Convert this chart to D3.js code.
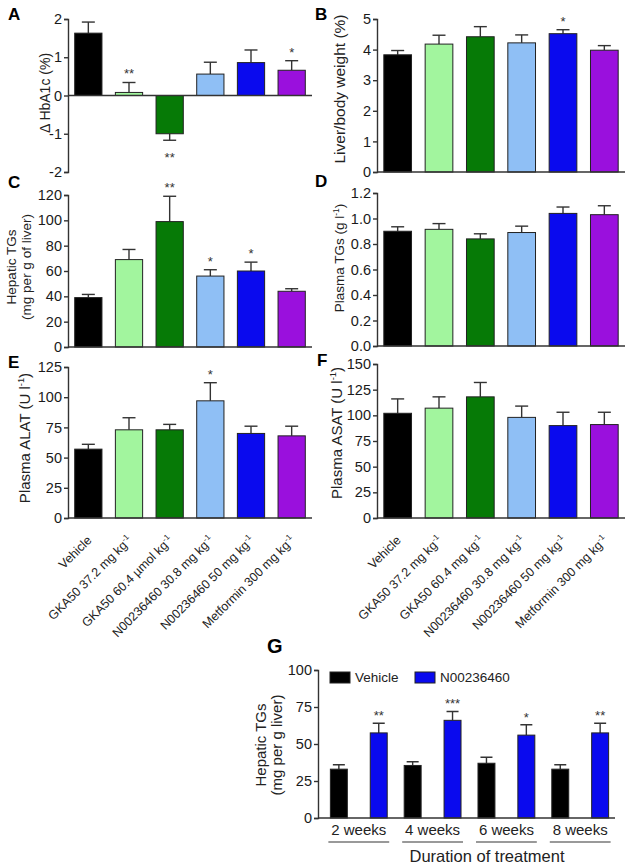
<!DOCTYPE html>
<html>
<head>
<meta charset="utf-8">
<script src="https://cdn.jsdelivr.net/npm/d3@7"></script>
<style>
  body { margin: 0; background: #fff; }
  svg { font-family: Arial, "Liberation Sans", sans-serif; }
</style>
</head>
<body>
<div id="chart"></div>
<script>
'use strict';

const width = 629;
const height = 864;

// treatment groups (panels A-F)
const groupsLeft = ['Vehicle', 'GKA50 37.2 mg kg', 'GKA50 60.4 µmol kg', 'N00236460 30.8 mg kg', 'N00236460 50 mg kg', 'Metformin 300 mg kg'];
const groupsRight = ['Vehicle', 'GKA50 37.2 mg kg', 'GKA50 60.4 mg kg', 'N00236460 30.8 mg kg', 'N00236460 50 mg kg', 'Metformin 300 mg kg'];
const barColors = ['#000000', '#a2f59e', '#067a06', '#8fbff5', '#0a0aee', '#9a10dd'];

const hba1c = [1.63, 0.08, -1.0, 0.56, 0.86, 0.66];
const hba1cErr = [0.29, 0.26, 0.17, 0.31, 0.33, 0.25];
const hba1cStars = ['', '**', '**', '', '', '*'];

const liverBody = [3.83, 4.18, 4.42, 4.22, 4.52, 3.98];
const liverBodyErr = [0.14, 0.29, 0.33, 0.26, 0.13, 0.15];
const liverBodyStars = ['', '', '', '', '*', ''];

const hepaticTG = [39, 69, 99, 56, 60, 44];
const hepaticTGErr = [2.5, 8, 20, 5, 7, 2];
const hepaticTGStars = ['', '', '**', '*', '*', ''];

const plasmaTG = [0.90, 0.915, 0.84, 0.89, 1.04, 1.03];
const plasmaTGErr = [0.035, 0.045, 0.04, 0.05, 0.05, 0.07];
const plasmaTGStars = ['', '', '', '', '', ''];

const alat = [57, 73, 73, 97, 70, 68];
const alatErr = [4, 10, 4.5, 15, 6, 8];
const alatStars = ['', '', '', '*', '', ''];

const asat = [102, 107, 118, 98, 90, 91];
const asatErr = [14, 11, 14, 11, 13, 12];
const asatStars = ['', '', '', '', '', ''];

// panel G
const weeks = ['2 weeks', '4 weeks', '6 weeks', '8 weeks'];
const gSeries = ['Vehicle', 'N00236460'];
const gColors = ['#000000', '#0a0aee'];
const gVehicle = [33, 35.5, 37, 33];
const gVehicleErr = [3, 2.5, 4, 3];
const gDrug = [57.5, 66, 56, 57.5];
const gDrugErr = [6.5, 6, 7, 6.5];
const gStars = ['**', '***', '*', '**'];

const axisColor = '#333';
const tickFont = 14.5;
const plain = (d) => String(d);
const oneDec = (d) => d.toFixed(1);

const svg = d3.select('#chart')
  .append('svg')
  .attr('width', width)
  .attr('height', height);

const panels = [
  { letter: 'A', lx: 8, ly: 20, values: hba1c, errs: hba1cErr, stars: hba1cStars,
    x: [68, 312], domain: [-2, 2], y: [172, 19], step: 1, fmt: plain,
    label: ['Δ HbA1c (%)'], labelX: [50], labelY: 93, labelSize: 14 },
  { letter: 'B', lx: 315, ly: 20, values: liverBody, errs: liverBodyErr, stars: liverBodyStars,
    x: [377, 625], domain: [0, 5], y: [172, 19], step: 1, fmt: plain,
    label: ['Liver/body weight (%)'], labelX: [345], labelY: 89, labelSize: 15.5 },
  { letter: 'C', lx: 8, ly: 188, values: hepaticTG, errs: hepaticTGErr, stars: hepaticTGStars,
    x: [68, 312], domain: [0, 120], y: [347, 195], step: 20, fmt: plain,
    label: ['Hepatic TGs', '(mg per g of liver)'], labelX: [16, 31], labelY: 267, labelSize: 13.5 },
  { letter: 'D', lx: 315, ly: 187, values: plasmaTG, errs: plasmaTGErr, stars: plasmaTGStars,
    x: [377, 625], domain: [0, 1.2], y: [346, 193], step: 0.2, fmt: oneDec,
    label: ['Plasma TGs (g l|-1|)'], labelX: [344], labelY: 258, labelSize: 13.5 },
  { letter: 'E', lx: 8, ly: 368, values: alat, errs: alatErr, stars: alatStars,
    x: [68, 312], domain: [0, 125], y: [518, 367], step: 25, fmt: plain,
    label: ['Plasma ALAT (U l|-1|)'], labelX: [30], labelY: 438, labelSize: 15 },
  { letter: 'F', lx: 317, ly: 366, values: asat, errs: asatErr, stars: asatStars,
    x: [377, 625], domain: [0, 150], y: [518, 364], step: 25, fmt: plain,
    label: ['Plasma ASAT (U l|-1|)'], labelX: [342], labelY: 433, labelSize: 15 },
];

// text with optional "|sup|" superscript segments
const richText = (sel, str, size) => {
  str.split('|').forEach((part, i) => {
    const t = sel.append('tspan').text(part);
    if (i % 2 === 1) {
      t.attr('font-size', size * 0.62).attr('dy', -size * 0.38);
    } else if (i > 0) {
      t.attr('dy', size * 0.38);
    }
  });
};

const styleAxis = (ax) => {
  ax.select('.domain').attr('stroke', axisColor).attr('stroke-width', 1.4);
  ax.selectAll('.tick line').attr('stroke', axisColor).attr('stroke-width', 1.4);
  ax.selectAll('.tick text')
    .attr('font-size', tickFont)
    .attr('fill', '#1a1a1a')
    .attr('font-family', 'Arial, "Liberation Sans", sans-serif');
};

const drawPanel = (p) => {
  const g = svg.append('g');
  const x = d3.scaleBand()
    .domain(d3.range(p.values.length))
    .range(p.x)
    .paddingInner(0.33)
    .paddingOuter(0.165);
  const y = d3.scaleLinear().domain(p.domain).range(p.y);

  const ticks = d3.range(p.domain[0], p.domain[1] + p.step / 2, p.step);
  const yAxis = g.append('g')
    .attr('transform', `translate(${p.x[0]},0)`)
    .call(d3.axisLeft(y).tickValues(ticks).tickFormat(p.fmt).tickSizeOuter(0).tickSize(4).tickPadding(2));
  styleAxis(yAxis);

  // error bars
  const errEnd = (v, i) => v >= 0 ? v + p.errs[i] : v - p.errs[i];
  const eb = g.selectAll('.err')
    .data(p.values)
    .join('g')
    .attr('stroke', axisColor)
    .attr('stroke-width', 1.4);
  eb.append('line')
    .attr('x1', (d, i) => x(i) + x.bandwidth() / 2)
    .attr('x2', (d, i) => x(i) + x.bandwidth() / 2)
    .attr('y1', (d) => y(d))
    .attr('y2', (d, i) => y(errEnd(d, i)));
  eb.append('line')
    .attr('x1', (d, i) => x(i) + x.bandwidth() / 2 - 6.5)
    .attr('x2', (d, i) => x(i) + x.bandwidth() / 2 + 6.5)
    .attr('y1', (d, i) => y(errEnd(d, i)))
    .attr('y2', (d, i) => y(errEnd(d, i)));

  g.selectAll('.bar')
    .data(p.values)
    .join('rect')
    .attr('x', (d, i) => x(i))
    .attr('width', x.bandwidth())
    .attr('y', (d) => y(Math.max(0, d)))
    .attr('height', (d) => Math.abs(y(d) - y(0)))
    .attr('fill', (d, i) => barColors[i])
    .attr('stroke', '#222')
    .attr('stroke-width', 1);

  // zero line
  g.append('line')
    .attr('x1', p.x[0])
    .attr('x2', p.x[1])
    .attr('y1', y(0))
    .attr('y2', y(0))
    .attr('stroke', axisColor)
    .attr('stroke-width', 1.4);

  g.selectAll('.star')
    .data(p.stars)
    .join('text')
    .attr('x', (d, i) => x(i) + x.bandwidth() / 2)
    .attr('y', (d, i) => p.values[i] >= 0 ? y(errEnd(p.values[i], i)) - 4 : y(errEnd(p.values[i], i)) + 22)
    .attr('text-anchor', 'middle')
    .attr('font-size', 13)
    .attr('fill', '#333')
    .text((d) => d);

  svg.append('text')
    .attr('x', p.lx)
    .attr('y', p.ly)
    .attr('font-size', 17)
    .attr('font-weight', 'bold')
    .text(p.letter);

  p.label.forEach((line, i) => {
    const t = svg.append('text')
      .attr('transform', `translate(${p.labelX[i]},${p.labelY}) rotate(-90)`)
      .attr('text-anchor', 'middle')
      .attr('font-size', p.labelSize)
      .attr('fill', '#222');
    richText(t, line, p.labelSize);
  });

  return x;
};

const xs = panels.map(drawPanel);

// rotated category labels under E and F
const drawXLabels = (x, labels) => {
  labels.forEach((name, i) => {
    const cx = x(i) + x.bandwidth() / 2;
    const t = svg.append('text')
      .attr('transform', `translate(${cx + 4},541) rotate(-45)`)
      .attr('text-anchor', 'end')
      .attr('font-size', 12.5)
      .attr('fill', '#222');
    t.append('tspan').text(name);
    if (i > 0) {
      t.append('tspan').attr('font-size', 8).attr('dy', -5).text('-1');
    }
  });
};
drawXLabels(xs[4], groupsLeft);
drawXLabels(xs[5], groupsRight);

// panel G
const gg = svg.append('g');
const x0 = d3.scaleBand().domain(weeks).range([323, 616]).paddingInner(0.23).paddingOuter(0.1);
const x1 = d3.scaleBand().domain(gSeries).range([0, x0.bandwidth()]).paddingInner(0.575);
const yG = d3.scaleLinear().domain([0, 100]).range([818, 670]);

const yAxisG = gg.append('g')
  .attr('transform', 'translate(318,0)')
  .call(d3.axisLeft(yG).tickValues([0, 25, 50, 75, 100]).tickFormat(plain).tickSizeOuter(0).tickSize(4).tickPadding(2));
styleAxis(yAxisG);

const gRows = weeks.map((w, i) => [
  { week: w, s: gSeries[0], v: gVehicle[i], e: gVehicleErr[i], star: '' },
  { week: w, s: gSeries[1], v: gDrug[i], e: gDrugErr[i], star: gStars[i] },
]).flat();

const gbx = (d) => x0(d.week) + x1(d.s);
gg.selectAll('.gerr')
  .data(gRows)
  .join('path')
  .attr('d', (d) => {
    const c = gbx(d) + x1.bandwidth() / 2;
    return `M${c},${yG(d.v)}V${yG(d.v + d.e)}M${c - 6},${yG(d.v + d.e)}H${c + 6}`;
  })
  .attr('stroke', axisColor)
  .attr('stroke-width', 1.4)
  .attr('fill', 'none');

gg.selectAll('.gbar')
  .data(gRows)
  .join('rect')
  .attr('x', gbx)
  .attr('width', x1.bandwidth())
  .attr('y', (d) => yG(d.v))
  .attr('height', (d) => yG(0) - yG(d.v))
  .attr('fill', (d) => gColors[gSeries.indexOf(d.s)])
  .attr('stroke', '#222')
  .attr('stroke-width', 1);

gg.selectAll('.gstar')
  .data(gRows)
  .join('text')
  .attr('x', (d) => gbx(d) + x1.bandwidth() / 2)
  .attr('y', (d) => yG(d.v + d.e) - 3)
  .attr('text-anchor', 'middle')
  .attr('font-size', 13)
  .attr('fill', '#333')
  .text((d) => d.star);

gg.append('line')
  .attr('x1', 318).attr('x2', 615)
  .attr('y1', yG(0)).attr('y2', yG(0))
  .attr('stroke', axisColor).attr('stroke-width', 1.4);

weeks.forEach((w) => {
  const cx = x0(w) + x0.bandwidth() / 2;
  gg.append('text')
    .attr('x', cx)
    .attr('y', 835)
    .attr('text-anchor', 'middle')
    .attr('font-size', 15)
    .attr('fill', '#222')
    .text(w);
  gg.append('line')
    .attr('x1', x0(w) - 2).attr('x2', x0(w) + x0.bandwidth() + 2)
    .attr('y1', 842).attr('y2', 842)
    .attr('stroke', '#777').attr('stroke-width', 1.5);
});

gg.append('text')
  .attr('x', 487)
  .attr('y', 862)
  .attr('text-anchor', 'middle')
  .attr('font-size', 16.5)
  .attr('fill', '#222')
  .text('Duration of treatment');

['Hepatic TGs', '(mg per g liver)'].forEach((line, i) => {
  gg.append('text')
    .attr('transform', `translate(${[266, 282][i]},745) rotate(-90)`)
    .attr('text-anchor', 'middle')
    .attr('font-size', 15)
    .attr('fill', '#222')
    .text(line);
});

svg.append('text')
  .attr('x', 267)
  .attr('y', 653)
  .attr('font-size', 20)
  .attr('font-weight', 'bold')
  .text('G');

// legend
const legendX = [330, 415];
gSeries.forEach((s, i) => {
  gg.append('rect')
    .attr('x', legendX[i]).attr('y', 672)
    .attr('width', 20).attr('height', 11)
    .attr('fill', gColors[i]).attr('stroke', '#222').attr('stroke-width', 1);
  gg.append('text')
    .attr('x', legendX[i] + 25).attr('y', 682)
    .attr('font-size', 13.5)
    .attr('fill', '#222')
    .text(s);
});
</script>
</body>
</html>
